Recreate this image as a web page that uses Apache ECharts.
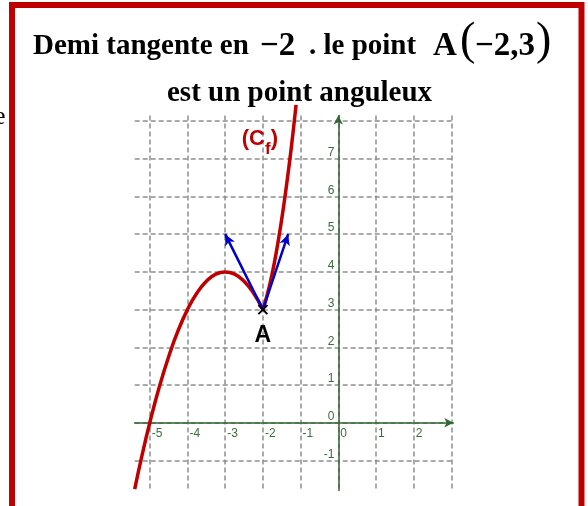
<!DOCTYPE html>
<html>
<head>
<meta charset="utf-8">
<script src="https://cdn.jsdelivr.net/npm/echarts@6/dist/echarts.min.js"></script>
<style>
  html, body { margin: 0; padding: 0; background: #fff; }
  #chart { width: 588px; height: 506px; }
</style>
</head>
<body>
<div id="chart"></div>
<script>
// left branch of (Cf), x <= -2
const leftX = [-5.4, -5.2, -5, -4.75, -4.5, -4.25, -4, -3.75, -3.5, -3.25, -3, -2.75, -2.5, -2.25, -2];
const leftY = [-1.76, -0.84, 0, 0.94, 1.75, 2.44, 3, 3.44, 3.75, 3.94, 4, 3.94, 3.75, 3.44, 3];
// right branch, x >= -2
const rightX = [-2, -1.9, -1.8, -1.7, -1.6, -1.5, -1.4, -1.3, -1.2, -1.12];
const rightY = [3, 3.34, 3.74, 4.22, 4.78, 5.4, 6.1, 6.86, 7.7, 8.43];
// point A and the two half tangents
const pointA = [-2, 3];
const tangentEnds = [[-3, 5], [-1.33, 5]];
// tick labels shown on the axes
const xTickLabels = ['-5', '-4', '-3', '-2', '-1', '0', '1', '2'];
const yTickLabels = ['-1', '0', '1', '2', '3', '4', '5', '6', '7'];
const cfLabelAt = [-2.08, 7.52];

const red = '#c00000';
const green = '#336633';
const gridLine = { color: '#8f8f8f', width: 1.5, type: [5, 3] };

let leftData = leftX.map((x, i) => [x, leftY[i]]);
let rightData = rightX.map((x, i) => [x, rightY[i]]);

function serifText(text, x, y, size, weight) {
  return {
    type: 'text', x: x, y: y, silent: true,
    style: {
      text: text, fill: '#000', fontFamily: '"Liberation Serif", "Times New Roman", serif',
      fontSize: size, fontWeight: weight || 'bold', verticalAlign: 'middle'
    }
  };
}

let myChart = echarts.init(document.getElementById('chart'));
myChart.setOption({
  animation: false,
  backgroundColor: '#fff',
  grid: { left: 134.7, right: 134.7, top: 115.4, bottom: 15.4, containLabel: false, outerBoundsMode: 'none' },
  graphic: [
    { type: 'rect', silent: true, shape: { x: 12, y: 5, width: 569.5, height: 640 },
      style: { fill: 'none', stroke: red, lineWidth: 6 } },
    serifText('e', -6, 117, 26, 'normal'),
    serifText('Demi tangente en', 33, 47, 29),
    serifText('\u22122', 260, 46, 33),
    serifText('. le point', 309, 47, 29),
    serifText('A', 433, 46, 33),
    serifText('(', 460, 41.5, 46, 'normal'),
    serifText('\u22122,3', 475, 46, 33),
    serifText(')', 536, 41.5, 46, 'normal'),
    serifText('est un point anguleux', 167, 94, 29)
  ],
  xAxis: {
    type: 'value', min: -5.4, max: 3.05, minInterval: 1, maxInterval: 1, position: 'bottom',
    axisLine: { onZero: false, symbol: ['none', 'arrow'], symbolSize: [7, 9], lineStyle: { color: green, width: 1.5 } },
    axisTick: { show: false },
    axisLabel: {
      color: '#3d6b3d', fontSize: 12, fontFamily: 'Liberation Sans', align: 'left', margin: 5, padding: [0, 0, 0, 2],
      formatter: (v) => xTickLabels.indexOf(String(v)) >= 0 ? String(v) : ''
    },
    splitLine: { show: true, showMinLine: false, showMaxLine: false, lineStyle: gridLine }
  },
  yAxis: {
    type: 'value', min: -1.8, max: 8.15, minInterval: 1, maxInterval: 1, position: 'left',
    axisLine: { onZero: false, symbol: ['none', 'arrow'], symbolSize: [7, 9], lineStyle: { color: green, width: 1.5 } },
    axisTick: { show: false },
    axisLabel: {
      color: '#3d6b3d', fontSize: 12, fontFamily: 'Liberation Sans', align: 'right', verticalAlign: 'bottom', margin: 4,
      formatter: (v) => yTickLabels.indexOf(String(v)) >= 0 ? String(v) : ''
    },
    splitLine: { show: true, showMinLine: false, showMaxLine: false, lineStyle: gridLine }
  },
  series: [
    {
      type: 'line', data: leftData, smooth: true, showSymbol: false, clip: false, silent: true,
      lineStyle: { color: red, width: 3.5 }, z: 3
    },
    {
      type: 'line', data: rightData, smooth: true, showSymbol: false, clip: false, silent: true,
      lineStyle: { color: red, width: 3.5 }, z: 3
    },
    {
      type: 'line', data: [], z: 4,
      markLine: {
        silent: true, symbol: ['none', 'arrow'], symbolSize: [8, 11],
        lineStyle: { color: '#0000cc', width: 2.5, type: 'solid' },
        label: { show: false },
        data: tangentEnds.map((e) => [{ coord: pointA }, { coord: e }])
      }
    },
    {
      type: 'scatter', data: [pointA], z: 5, silent: true,
      symbol: 'path://M0,0L10,10M10,0L0,10', symbolSize: 9,
      itemStyle: { color: 'transparent', borderColor: '#000', borderWidth: 2, opacity: 1 },
      label: {
        show: true, formatter: 'A', position: 'bottom', distance: 9, color: '#000',
        fontSize: 23, fontWeight: 'bold', fontFamily: 'Liberation Sans'
      }
    },
    {
      type: 'scatter', data: [cfLabelAt], z: 5, silent: true, symbolSize: 1,
      itemStyle: { color: 'transparent', opacity: 1 },
      label: {
        show: true, position: 'inside', formatter: '{p|(C}{s|f}{p|)}',
        rich: {
          p: { fontSize: 22, fontWeight: 'bold', color: red, fontFamily: 'Liberation Sans', lineHeight: 24 },
          s: { fontSize: 17, fontWeight: 'bold', color: red, fontFamily: 'Liberation Sans', lineHeight: 20, padding: [20, 0, 0, 0] }
        }
      }
    }
  ]
});

// move both axes onto the origin, labels included
const grid = myChart.getModel().getComponent('grid').coordinateSystem.getRect();
const origin = myChart.convertToPixel({ gridIndex: 0 }, [0, 0]);
myChart.setOption({
  xAxis: { offset: origin[1] - (grid.y + grid.height) },
  yAxis: { offset: grid.x - origin[0] }
});

window.onresize = function () {
  myChart.resize();
};
</script>
</body>
</html>
